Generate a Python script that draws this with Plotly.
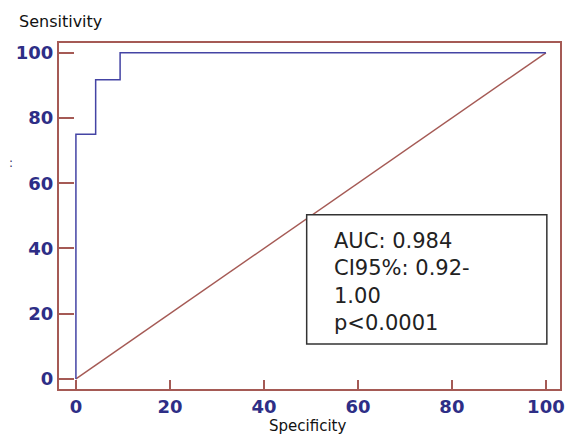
import plotly.graph_objects as go

# ROC curve
roc_x = [0, 0, 4.2, 4.2, 9.4, 9.4, 100]
roc_y = [0, 75, 75, 91.7, 91.7, 100, 100]
# reference diagonal
diag_x = [0, 100]
diag_y = [0, 100]
tick_vals = [0, 20, 40, 60, 80, 100]
tick_text = ["0", "20", "40", "60", "80", "100"]
stats_lines = ["AUC: 0.984", "CI95%: 0.92-", "1.00", "p<0.0001"]

BROWN = "#a55a55"
BLUE = "#4444a4"
LABEL = "#2e2e86"

fig = go.Figure()
fig.add_trace(go.Scatter(x=diag_x, y=diag_y, mode="lines",
                         line=dict(color=BROWN, width=1.5), hoverinfo="skip"))
fig.add_trace(go.Scatter(x=roc_x, y=roc_y, mode="lines",
                         line=dict(color=BLUE, width=1.5), hoverinfo="skip"))

axis_common = dict(
    showgrid=False, zeroline=False, showline=True, mirror=True, automargin=False,
    linecolor=BROWN, linewidth=2, ticks="inside", tickcolor=BROWN,
    tickwidth=1.5, tickvals=tick_vals, ticktext=tick_text,
    tickfont=dict(family="DejaVu Sans", size=18, color=LABEL, weight="bold"),
)
fig.update_xaxes(range=[-3.6, 103], ticklen=9, **axis_common)
fig.update_yaxes(range=[-3.1, 103], ticklen=15, **axis_common)

# stats box
fig.add_shape(type="rect", xref="x", yref="y", x0=49.1, x1=100.2, y0=10.7, y1=50.3,
              line=dict(color="#333333", width=1.5), fillcolor="white", layer="above")
fig.add_annotation(xref="x", yref="y", x=54.5, y=29.8, xanchor="left", yanchor="middle",
                   text="<br>".join(stats_lines), showarrow=False, align="left",
                   font=dict(family="DejaVu Sans", size=21, color="#222222"))

fig.add_annotation(xref="paper", yref="paper", x=-0.084, y=1.061, xanchor="left", yanchor="middle",
                   text="Sensitivity", showarrow=False,
                   font=dict(family="DejaVu Sans", size=16, color="#111111"))
fig.add_annotation(xref="paper", yref="paper", x=0.497, y=-0.108, xanchor="center", yanchor="middle",
                   text="Specificity", showarrow=False,
                   font=dict(family="DejaVu Sans", size=15, color="#111111"))
fig.add_annotation(xref="paper", yref="paper", x=-0.096, y=0.653, xanchor="center", yanchor="middle",
                   text=":", showarrow=False,
                   font=dict(family="DejaVu Sans", size=12, color="#333366"))

fig.update_layout(
    width=569, height=436, showlegend=False,
    margin=dict(l=59, r=9, t=43, b=47),
    paper_bgcolor="white", plot_bgcolor="white",
)
fig.write_html("out.html", config={"displayModeBar": False},
               post_script="document.body.style.margin='0';document.body.style.overflow='hidden';")
